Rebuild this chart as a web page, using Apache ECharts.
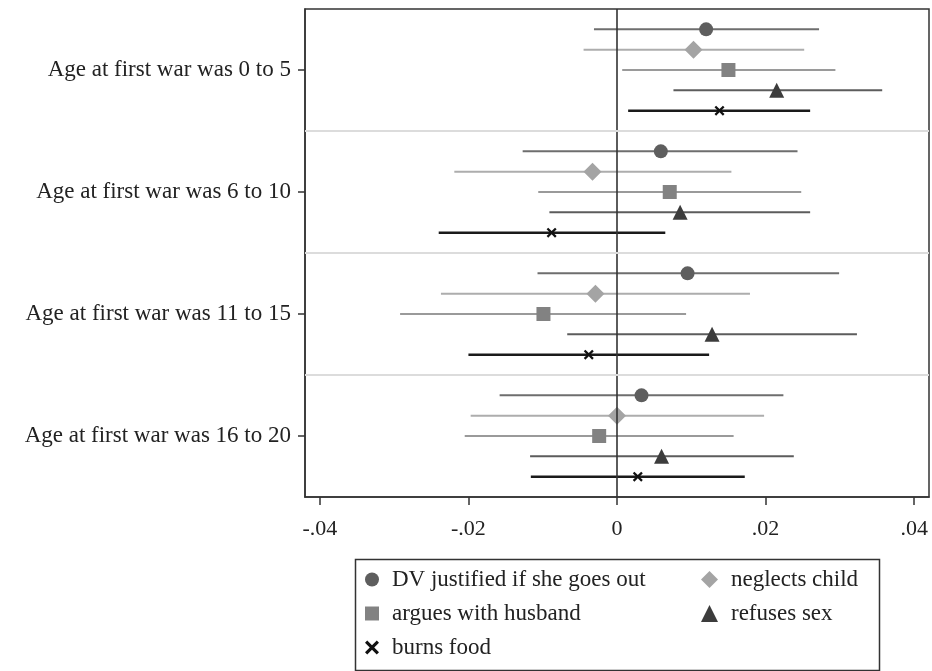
<!DOCTYPE html>
<html>
<head>
<meta charset="utf-8">
<script src="https://cdn.jsdelivr.net/npm/echarts@6/dist/echarts.min.js"></script>
<style>
html,body{margin:0;padding:0;background:#fff;}
#chart{width:932px;height:671px;}
</style>
</head>
<body>
<div id="chart"></div>
<script>
// ---- data ----
const groupLabels = ['Age at first war was 0 to 5','Age at first war was 6 to 10','Age at first war was 11 to 15','Age at first war was 16 to 20'];
const seriesNames = ['DV justified if she goes out','neglects child','argues with husband','refuses sex','burns food'];
const xTicks = [-0.04, -0.02, 0, 0.02, 0.04];

// point estimates and confidence bounds, one value per age group
const goesOutEst = [0.0120, 0.0059, 0.0095, 0.0033];
const goesOutLo  = [-0.0031, -0.0127, -0.0107, -0.0158];
const goesOutHi  = [0.0272, 0.0243, 0.0299, 0.0224];

const neglectsEst = [0.0103, -0.0033, -0.0029, 0.0000];
const neglectsLo  = [-0.0045, -0.0219, -0.0237, -0.0197];
const neglectsHi  = [0.0252, 0.0154, 0.0179, 0.0198];

const arguesEst = [0.0150, 0.0071, -0.0099, -0.0024];
const arguesLo  = [0.0007, -0.0106, -0.0292, -0.0205];
const arguesHi  = [0.0294, 0.0248, 0.0093, 0.0157];

const refusesEst = [0.0215, 0.0085, 0.0128, 0.0060];
const refusesLo  = [0.0076, -0.0091, -0.0067, -0.0117];
const refusesHi  = [0.0357, 0.0260, 0.0323, 0.0238];

const burnsEst = [0.0138, -0.0088, -0.0038, 0.0028];
const burnsLo  = [0.0015, -0.0240, -0.0200, -0.0116];
const burnsHi  = [0.0260, 0.0065, 0.0124, 0.0172];

// ---- build ----
const allEst = [goesOutEst, neglectsEst, arguesEst, refusesEst, burnsEst];
const allLo  = [goesOutLo, neglectsLo, arguesLo, refusesLo, burnsLo];
const allHi  = [goesOutHi, neglectsHi, arguesHi, refusesHi, burnsHi];

const slots = 6; // rows per group (5 series + spacing)
const rowPos = (g, s) => g * slots + 1 + s;

const xPath = 'path://M0,1.6L1.6,0L5,3.4L8.4,0L10,1.6L6.6,5L10,8.4L8.4,10L5,6.6L1.6,10L0,8.4L3.4,5Z';
const styles = [
  {symbol: 'circle',   size: 14, color: '#5e5e5e', line: '#6e6e6e', lw: 2},
  {symbol: 'diamond',  size: 18, color: '#a4a4a4', line: '#adadad', lw: 2},
  {symbol: 'rect',     size: 14, color: '#828282', line: '#9a9a9a', lw: 2},
  {symbol: 'triangle', size: 15, color: '#3c3c3c', line: '#5c5c5c', lw: 2},
  {symbol: xPath,      size: 10, color: '#111111', line: '#1a1a1a', lw: 2.5}
];

const series = [];
seriesNames.forEach((name, s) => {
  const st = styles[s];
  series.push({
    type: 'custom',
    name: name + ' CI',
    z: 2,
    silent: true,
    encode: {x: [0, 1], y: 2},
    data: groupLabels.map((_, g) => [allLo[s][g], allHi[s][g], rowPos(g, s)]),
    renderItem: function (params, api) {
      const p1 = api.coord([api.value(0), api.value(2)]);
      const p2 = api.coord([api.value(1), api.value(2)]);
      return {type: 'line', shape: {x1: p1[0], y1: p1[1], x2: p2[0], y2: p2[1]},
              style: {stroke: st.line, lineWidth: st.lw}};
    }
  });
});
seriesNames.forEach((name, s) => {
  const st = styles[s];
  series.push({
    type: 'scatter',
    name: name,
    z: 3,
    symbol: st.symbol,
    symbolSize: st.size,
    itemStyle: {color: st.color, opacity: 1},
    data: groupLabels.map((_, g) => [allEst[s][g], rowPos(g, s)])
  });
});
// reference lines: zero line and group separators
series.push({
  type: 'scatter', name: 'ref', data: [], z: 1, silent: true,
  markLine: {
    silent: true, symbol: 'none', label: {show: false}, animation: false,
    data: [
      {xAxis: 0, lineStyle: {color: '#333', width: 1.6, type: 'solid'}},
      {yAxis: slots * 1, lineStyle: {color: '#dcdcdc', width: 2, type: 'solid'}},
      {yAxis: slots * 2, lineStyle: {color: '#dcdcdc', width: 2, type: 'solid'}},
      {yAxis: slots * 3, lineStyle: {color: '#dcdcdc', width: 2, type: 'solid'}}
    ]
  }
});

const serif = '"Liberation Serif", "DejaVu Serif", serif';

function legendData(idx) {
  return idx.map(i => ({
    name: seriesNames[i],
    icon: styles[i].symbol,
    itemStyle: {color: styles[i].color}
  }));
}

const legendText = {fontFamily: serif, fontSize: 23, color: '#222', padding: [0, 0, 0, 8]};

const option = {
  animation: false,
  backgroundColor: '#fff',
  grid: {left: 305, right: 3, top: 9, bottom: 174, show: true, borderColor: '#333', borderWidth: 1.5},
  xAxis: {
    type: 'value', min: -0.042, max: 0.042,
    axisLine: {show: true, onZero: false, lineStyle: {color: '#333', width: 1.5}},
    axisTick: {show: true, length: 8, customValues: xTicks, lineStyle: {color: '#333', width: 1.5}},
    axisLabel: {customValues: xTicks, margin: 21, color: '#222', fontFamily: serif, fontSize: 22,
      formatter: v => (v === 0 ? '0' : (v < 0 ? '-' : '') + String(Math.abs(v).toFixed(2)).replace(/^0/, ''))},
    splitLine: {show: false}
  },
  yAxis: {
    type: 'value', min: 0, max: slots * groupLabels.length, inverse: true,
    axisLine: {show: true, onZero: false, lineStyle: {color: '#333', width: 1.5}},
    axisTick: {show: true, length: 7, customValues: groupLabels.map((_, g) => g * slots + 3), lineStyle: {color: '#333', width: 1.5}},
    axisLabel: {customValues: groupLabels.map((_, g) => g * slots + 3), margin: 14, color: '#222', fontFamily: serif, fontSize: 23,
      formatter: v => groupLabels[Math.round((v - 3) / slots)]},
    splitLine: {show: false}
  },
  legend: [
    {
      data: legendData([0, 2, 4]),
      orient: 'vertical', left: 365, top: 568, padding: 0,
      itemWidth: 14, itemHeight: 14, itemGap: 11,
      textStyle: legendText
    },
    {
      data: legendData([1, 3]),
      orient: 'vertical', left: 701, top: 568, padding: 0,
      itemWidth: 17, itemHeight: 17, itemGap: 11,
      textStyle: legendText
    }
  ],
  graphic: [{
    type: 'rect', left: 353, top: 557, silent: true,
    shape: {width: 524, height: 111},
    style: {fill: 'none', stroke: '#333', lineWidth: 1.5}
  }],
  series: series
};

const chart = echarts.init(document.getElementById('chart'), null, {renderer: 'canvas'});
chart.setOption(option);
</script>
</body>
</html>
